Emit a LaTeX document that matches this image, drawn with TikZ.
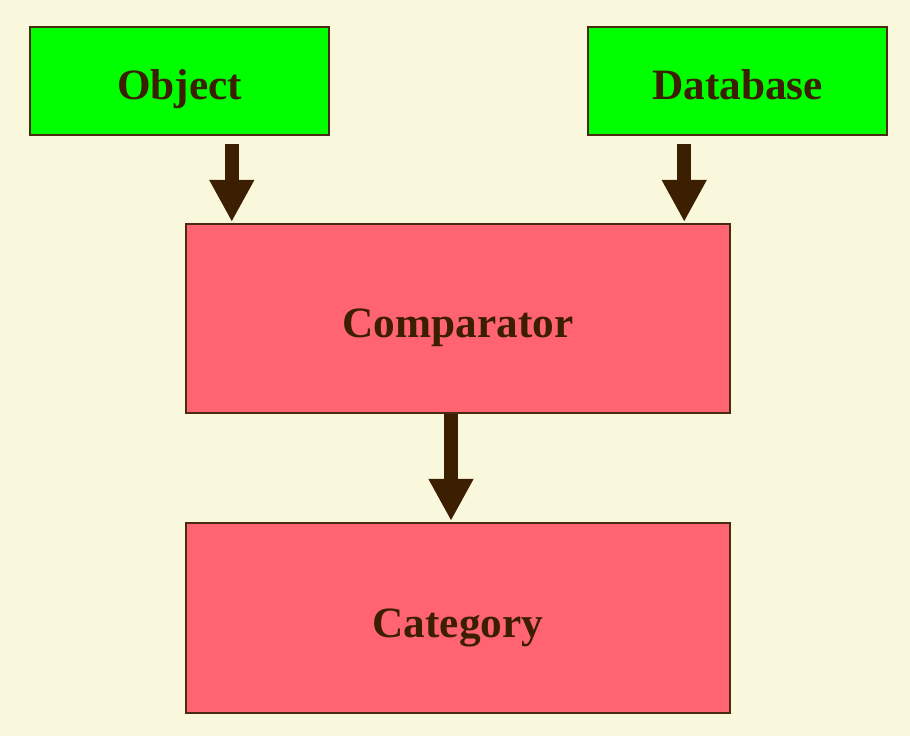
\documentclass[tikz,border=0pt]{standalone}
\usepackage{fontspec}
\setmainfont{Liberation Serif}
\usepackage{tikz}
\usetikzlibrary{arrows.meta, positioning, calc}

\definecolor{cream}{HTML}{FAF8DC}
\definecolor{boxgreen}{HTML}{00FF00}
\definecolor{boxpink}{HTML}{FF6470}
\definecolor{ink}{HTML}{3C1E00}
\definecolor{edge}{HTML}{4A2A10}

\begin{document}
\begin{tikzpicture}[
  x=0.01cm, y=-0.01cm,
  inputbox/.style={draw=edge, fill=boxgreen, line width=0.6pt,
    minimum width=2.99cm, minimum height=1.08cm,
    text height=10.8pt, text depth=0pt,
    font=\fontsize{12.3}{14}\selectfont\bfseries, text=ink},
  stagebox/.style={draw=edge, fill=boxpink, line width=0.6pt,
    minimum width=5.44cm, minimum height=1.89cm,
    text height=10.8pt, text depth=0pt,
    font=\fontsize{12.3}{14}\selectfont\bfseries, text=ink},
  flow/.style={ink, line width=0.14cm, -{Triangle[width=0.42cm, length=0.42cm]}}
]

% background
\fill[cream] (0,0) rectangle (910,736);
\useasboundingbox (0,0) rectangle (910,736);

% inputs
\node[inputbox] (object) at (179.5,81) {Object};
\node[inputbox] (database) at (737.5,81) {Database};

% stages
\node[stagebox] (comparator) at (458,318.5) {Comparator};
\node[stagebox, minimum height=1.9cm] (category) at (458,618) {Category};

% arrows
\coordinate (objin) at ($(comparator.north west)+(47,-1)$);
\coordinate (dbin) at ($(comparator.north east)+(-47,-1)$);
\coordinate (catin) at ($(category.north)+(-7,-1)$);
\draw[flow] ($(objin |- object.south)+(0,8)$) -- (objin);
\draw[flow] ($(dbin |- database.south)+(0,8)$) -- (dbin);
\draw[flow] (catin |- comparator.south) -- (catin);

\end{tikzpicture}
\end{document}
